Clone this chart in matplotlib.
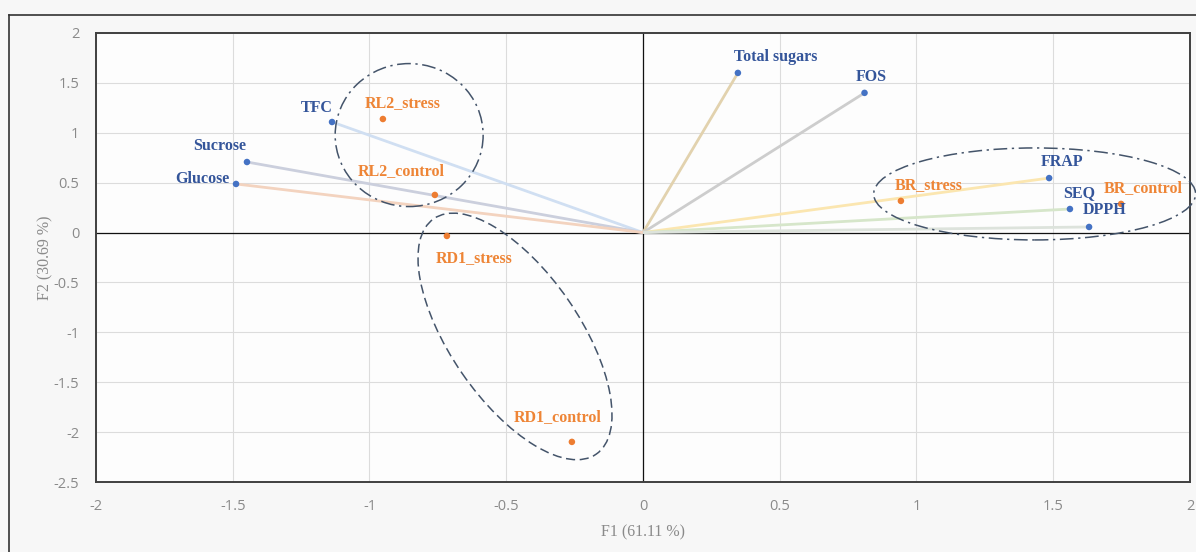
import matplotlib
matplotlib.use('Agg')
import matplotlib.pyplot as plt
from matplotlib.patches import Ellipse
from matplotlib.lines import Line2D
from matplotlib.transforms import ScaledTranslation

# variable loadings (blue) on F1/F2
var_names = ['Total sugars', 'FOS', 'FRAP', 'SEQ', 'DPPH', 'TFC', 'Sucrose', 'Glucose']
var_f1 = [0.347, 0.81, 1.485, 1.561, 1.631, -1.137, -1.448, -1.488]
var_f2 = [1.60, 1.40, 0.546, 0.236, 0.056, 1.108, 0.707, 0.487]

# observations (orange)
obs_names = ['RL2_stress', 'RL2_control', 'RD1_stress', 'RD1_control', 'BR_stress', 'BR_control']
obs_f1 = [-0.951, -0.761, -0.717, -0.26, 0.943, 1.748]
obs_f2 = [1.138, 0.377, -0.034, -2.098, 0.317, 0.287]

x_ticks = [-2, -1.5, -1, -0.5, 0, 0.5, 1, 1.5, 2]
y_ticks = [-2.5, -2, -1.5, -1, -0.5, 0, 0.5, 1, 1.5, 2]

BLUE = '#4472C4'
BLUE_TXT = '#34559a'
ORANGE = '#ED7D31'
ORANGE_TXT = '#ee8536'
RING = '#44546A'
TICK_GRAY = '#8a8a8a'

line_colors = ['#e2d2ae', '#cdcdcd', '#fbe6b0', '#d6e6ca', '#dde3dc',
               '#d0dff2', '#cbcfdd', '#f3d3bf']

# label offsets in pixels (dx, dy)
var_offsets = [(38, 16), (7, 16), (13, 16), (9, 16), (16, 17),
               (-15, 14), (-27, 16), (-34, 5)]
obs_offsets = [(20, 16), (-34, 24), (27, -22), (-14, 25), (28, 16), (22, 16)]

fig = plt.figure(figsize=(11.96, 5.52), dpi=100, facecolor='#f7f7f7')
ax = fig.add_axes([96 / 1196, 70 / 552, 1094 / 1196, 449 / 552])
ax.set_facecolor('#fdfdfd')

# outer frame (top and left)
fig.add_artist(Line2D([9 / 1196, 1], [1 - 15 / 552, 1 - 15 / 552],
                      transform=fig.transFigure, color='#333333', lw=1.2))
fig.add_artist(Line2D([9 / 1196, 9 / 1196], [0, 1 - 15 / 552],
                      transform=fig.transFigure, color='#333333', lw=1.2))

ax.set_xlim(-2, 2)
ax.set_ylim(-2.5, 2)
ax.set_xticks(x_ticks)
ax.set_yticks(y_ticks)
ax.set_xticklabels([f'{v:g}' for v in x_ticks])
ax.set_yticklabels([f'{v:g}' for v in y_ticks])
ax.grid(True, color='#dcdcdc', lw=0.8, zorder=0)
ax.set_axisbelow(True)
ax.tick_params(length=0, labelcolor=TICK_GRAY, labelsize=10.5, pad=12)
for lab in ax.get_xticklabels() + ax.get_yticklabels():
    lab.set_family('Open Sans')
for sp in ax.spines.values():
    sp.set_color('#404040')
    sp.set_linewidth(1.4)

ax.axhline(0, color='#111111', lw=0.9, zorder=1)
ax.axvline(0, color='#111111', lw=0.9, zorder=1)

# loading vectors
for x, y, c in zip(var_f1, var_f2, line_colors):
    ax.plot([0, x], [0, y], color=c, lw=2.0, zorder=2, solid_capstyle='butt')

ax.scatter(var_f1, var_f2, s=22, color=BLUE, zorder=4, edgecolors='none')
ax.scatter(obs_f1, obs_f2, s=22, color=ORANGE, zorder=4, edgecolors='none')

for name, x, y, off in zip(var_names, var_f1, var_f2, var_offsets):
    ax.annotate(name, (x, y), xytext=off, textcoords='offset pixels',
                ha='center', va='center', fontsize=11.5, fontweight='bold',
                family='Liberation Serif', color=BLUE_TXT, zorder=5)
for name, x, y, off in zip(obs_names, obs_f1, obs_f2, obs_offsets):
    ax.annotate(name, (x, y), xytext=off, textcoords='offset pixels',
                ha='center', va='center', fontsize=11.5, fontweight='bold',
                family='Liberation Serif', color=ORANGE_TXT, zorder=5)

# group rings
dashdot = (0, (9, 3, 1.5, 3))
ax.add_patch(Ellipse((-0.855, 0.977), 0.541, 1.433, fill=False, ec=RING,
                     lw=1.1, ls=dashdot, zorder=3))
ax.add_patch(Ellipse((1.432, 0.387), 1.177, 0.922, fill=False, ec=RING,
                     lw=1.1, ls=dashdot, zorder=3, clip_on=False))
tr = fig.dpi_scale_trans + ScaledTranslation(-0.468, -1.041, ax.transData)
ax.add_patch(Ellipse((0, 0), 2.86, 1.29, angle=-55.4, fill=False, ec=RING,
                     lw=1.1, ls=(0, (6, 3)), zorder=3, transform=tr,
                     clip_on=False))

ax.set_xlabel('F1 (61.11 %)', family='Liberation Serif', fontsize=11.5,
              color=TICK_GRAY, labelpad=8)
ax.set_ylabel('F2 (30.69 %)', family='Liberation Serif', fontsize=11.5,
              color=TICK_GRAY, labelpad=0)

fig.savefig('out.png', dpi=100, facecolor=fig.get_facecolor())
